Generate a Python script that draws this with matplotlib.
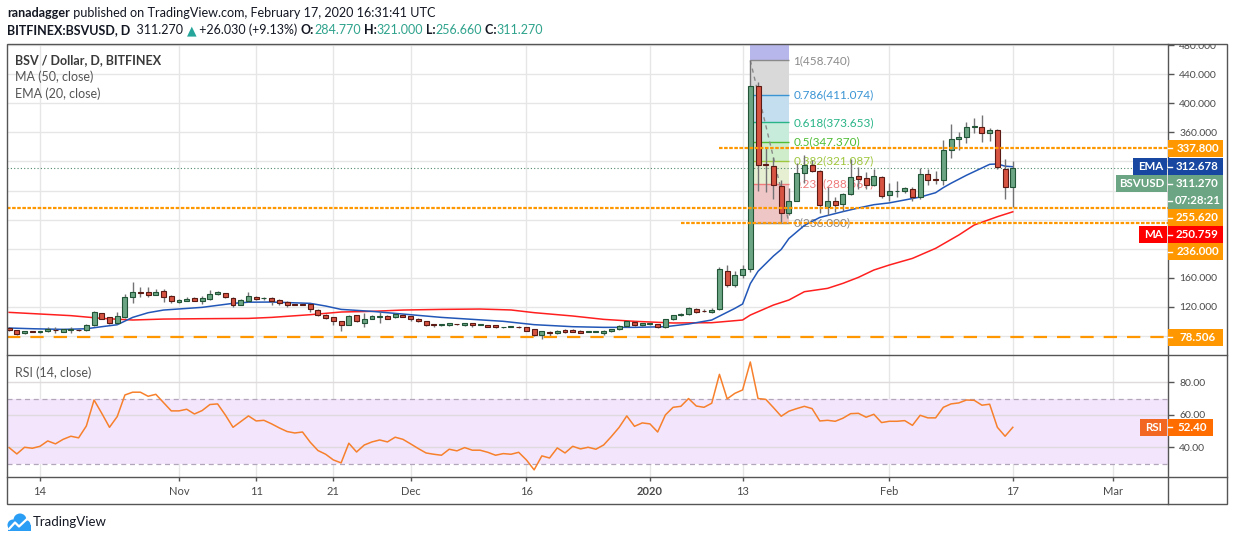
import numpy as np
import pandas as pd
import matplotlib
matplotlib.use('Agg')
import matplotlib.pyplot as plt
from matplotlib.patches import Rectangle, Circle
from matplotlib.transforms import Bbox, TransformedBbox

plt.rcParams['font.family'] = ['Lato', 'DejaVu Sans']

W, H = 1234, 541

# ---------------- data ----------------
start = pd.Timestamp('2019-10-10')

opens = [91.4, 87.7, 83.6, 86.4, 85.0, 86.4, 88.6, 85.9, 87.7, 88.6,
         88.2, 94.6, 111.1, 105.6, 97.4, 106.5, 133.1, 140.5, 140.5, 136.8,
         141.4, 135.0, 127.2, 128.5, 132.2, 128.5, 131.3, 137.7, 138.6, 132.2,
         123.0, 128.5, 134.0, 131.7, 132.2, 129.5, 126.7, 123.8, 123.6, 124.0,
         115.7, 109.3, 105.6, 100.1, 95.5, 108.4, 98.3, 103.8, 105.6, 107.5,
         105.6, 109.3, 107.5, 103.8, 100.1, 95.5, 95.6, 94.6, 96.5, 94.6,
         97.4, 95.8, 94.7, 94.7, 92.0, 92.8, 92.2, 92.0, 89.2, 80.9,
         85.5, 83.7, 88.3, 88.3, 87.3, 85.5, 86.2, 84.6, 86.4, 89.2,
         93.8, 99.3, 94.7, 96.5, 96.5, 92.0, 103.0, 108.4, 110.3, 116.7,
         114.2, 113.0, 116.7, 169.8, 149.7, 164.3, 171.7, 423.6, 316.4, 313.7,
         286.2, 249.5, 265.1, 303.6, 314.6, 307.2, 257.7, 265.1, 261.4, 275.2,
         299.9, 297.2, 287.0, 299.0, 273.3, 279.0, 278.8, 281.6, 270.6, 302.7,
         295.3, 294.4, 335.7, 350.3, 353.1, 367.2, 366.8, 358.6, 363.2, 309.1,
         284.77]
highs = [92.5, 88.5, 87.0, 87.2, 87.5, 92.7, 92.7, 90.0, 91.8, 89.5,
         96.5, 114.3, 112.0, 106.5, 113.0, 137.7, 153.7, 147.8, 147.8, 144.1,
         144.1, 136.0, 131.0, 133.0, 133.0, 135.0, 143.2, 142.0, 139.5, 133.0,
         131.0, 140.0, 135.5, 134.0, 133.0, 130.5, 127.5, 124.5, 124.2, 124.5,
         116.5, 110.0, 106.0, 101.0, 108.4, 109.0, 111.1, 108.5, 112.9, 108.3,
         111.0, 110.0, 108.0, 104.5, 101.0, 96.5, 97.0, 98.0, 97.0, 98.0,
         98.0, 97.0, 95.5, 95.5, 93.0, 94.0, 93.5, 92.5, 89.5, 87.0,
         86.5, 88.5, 89.0, 89.0, 88.0, 87.0, 87.0, 88.0, 90.0, 94.5,
         101.0, 100.0, 98.0, 97.5, 97.0, 104.0, 109.5, 112.0, 119.5, 119.0,
         117.0, 118.0, 175.0, 178.0, 170.0, 177.5, 458.74, 429.6, 339.3, 326.5,
         294.4, 283.0, 317.3, 329.2, 321.9, 308.0, 285.0, 271.5, 276.0, 323.7,
         312.7, 305.4, 309.0, 300.0, 289.8, 292.5, 285.0, 284.3, 310.9, 310.0,
         306.3, 349.4, 371.4, 360.4, 374.1, 379.6, 384.2, 365.9, 364.1, 323.7,
         321.0]
lows = [87.0, 81.5, 83.0, 85.5, 84.5, 85.5, 84.5, 85.0, 84.5, 87.0,
        87.5, 94.0, 103.0, 96.5, 96.5, 104.2, 125.8, 133.1, 134.0, 136.0,
        126.7, 124.9, 126.0, 127.5, 128.0, 124.0, 130.0, 137.0, 132.0, 120.3,
        122.0, 127.0, 129.5, 129.0, 122.0, 123.0, 120.3, 122.0, 122.0, 113.0,
        107.5, 104.0, 94.6, 87.3, 94.5, 99.5, 92.8, 103.0, 98.3, 103.0,
        105.0, 106.0, 101.0, 99.5, 94.0, 92.0, 94.0, 94.0, 95.0, 94.0,
        93.0, 95.0, 92.0, 90.5, 91.0, 92.0, 91.0, 86.5, 80.0, 75.4,
        80.0, 83.0, 84.0, 85.0, 84.0, 85.0, 85.0, 82.0, 86.0, 88.5,
        93.0, 94.0, 94.0, 95.5, 91.5, 91.5, 102.0, 108.0, 109.5, 112.0,
        113.0, 112.0, 116.0, 148.0, 147.0, 160.0, 168.0, 279.7, 278.0, 268.8,
        236.0, 246.0, 265.0, 289.8, 305.0, 248.6, 246.7, 250.8, 252.0, 274.0,
        282.5, 282.5, 286.0, 270.0, 266.0, 270.5, 277.0, 265.1, 269.0, 287.0,
        289.0, 288.0, 324.7, 335.7, 344.8, 359.5, 346.7, 348.5, 310.0, 268.7,
        256.66]
closes = [87.7, 82.2, 86.4, 86.0, 86.8, 89.1, 88.0, 89.1, 89.1, 87.7,
          94.6, 113.0, 103.8, 97.4, 107.5, 133.1, 140.5, 139.5, 136.8, 140.5,
          134.0, 128.5, 129.5, 131.3, 128.5, 132.2, 137.7, 140.5, 133.1, 123.0,
          129.5, 135.0, 130.4, 132.4, 128.5, 125.8, 123.0, 123.2, 123.0, 116.6,
          108.4, 104.7, 100.1, 95.5, 107.5, 100.1, 102.9, 107.5, 107.0, 103.8,
          110.2, 106.5, 103.8, 100.1, 94.6, 95.0, 96.0, 97.4, 96.0, 97.4,
          95.5, 96.0, 92.8, 92.0, 92.2, 93.0, 92.0, 87.3, 80.9, 86.4,
          83.7, 87.3, 85.5, 85.5, 84.6, 86.4, 86.4, 87.3, 89.2, 93.8,
          100.2, 94.7, 97.4, 96.6, 92.0, 103.0, 108.4, 110.3, 118.5, 113.0,
          114.0, 115.8, 171.7, 149.7, 163.4, 171.7, 423.6, 315.0, 314.6, 287.0,
          248.6, 265.1, 303.6, 314.6, 306.3, 259.6, 265.1, 260.5, 275.2, 298.1,
          296.2, 287.0, 299.9, 272.0, 278.8, 279.5, 283.4, 270.6, 302.7, 294.4,
          294.4, 335.7, 350.3, 353.1, 366.8, 367.8, 358.6, 363.2, 311.8, 284.3,
          311.27]

# EMA(20) and MA(50) (day offset from start, value)
ema_days = [0, 3, 7, 10, 12, 14, 16, 18, 20, 25, 29, 31, 34, 39, 41, 43, 47, 51,
            56, 60, 64, 68, 73, 77, 81, 85, 88, 91, 94, 95, 96, 97, 99, 100, 101,
            103, 105, 108, 110, 112, 114, 116, 118, 120, 121, 122, 124, 126, 127,
            128, 129, 130]
ema_vals = [91.0, 90.0, 89.1, 90.0, 92.8, 95.5, 105.6, 112.0, 115.7, 119.4, 124.9,
            126.5, 126.7, 124.9, 121.2, 116.6, 113.9, 110.2, 105.6, 102.9, 100.2,
            95.6, 92.8, 91.9, 91.9, 92.8, 96.5, 102.0, 118.0, 124.0, 152.0, 169.0,
            190.0, 199.0, 214.0, 232.0, 243.0, 251.0, 256.0, 260.5, 263.0, 267.0,
            271.0, 277.0, 284.0, 290.0, 301.0, 311.0, 316.0, 316.5, 313.5, 312.678]
ma_days = [0, 8, 12, 16, 20, 25, 31, 34, 39, 43, 47, 51, 56, 61, 65, 68, 73, 77,
           81, 86, 91, 95, 96, 99, 101, 103, 106, 108, 110, 112, 114, 117, 120,
           123, 125, 128, 130]
ma_vals = [112.5, 108.0, 104.2, 102.0, 103.3, 103.8, 104.2, 105.6, 109.3, 113.0,
           113.9, 115.7, 116.6, 117.1, 115.8, 112.1, 107.5, 102.9, 100.2, 97.9,
           98.3, 102.0, 108.8, 122.6, 129.5, 140.9, 145.5, 152.4, 160.6, 170.7,
           177.6, 186.7, 200.5, 218.8, 232.6, 244.0, 250.759]

rsi_vals = [39.9, 36.0, 40.1, 39.5, 40.7, 44.0, 42.2, 45.0, 46.9, 45.9,
            53.2, 69.2, 61.0, 52.4, 59.0, 72.3, 74.0, 74.0, 71.5, 72.7,
            67.6, 62.5, 62.5, 63.5, 60.6, 62.7, 66.4, 66.8, 60.0, 52.4,
            55.9, 59.4, 56.3, 56.7, 54.5, 52.0, 49.8, 48.9, 49.5, 43.2,
            38.1, 35.8, 32.3, 30.5, 42.6, 37.2, 41.5, 43.4, 44.6, 43.4,
            46.3, 45.0, 42.2, 39.3, 36.6, 35.8, 35.2, 38.9, 37.9, 39.9,
            38.3, 38.3, 37.0, 35.2, 36.2, 35.8, 37.0, 32.3, 26.2, 34.8,
            33.5, 39.7, 36.6, 40.7, 39.1, 40.1, 38.9, 41.5, 46.7, 52.3,
            59.4, 53.0, 55.1, 54.5, 49.5, 60.0, 64.7, 65.3, 70.1, 65.5,
            64.7, 67.2, 85.0, 69.9, 73.3, 75.4, 92.6, 70.1, 69.6, 64.5,
            59.2, 62.3, 63.9, 65.3, 63.9, 56.3, 56.7, 56.1, 58.0, 60.8,
            61.0, 58.6, 60.4, 55.3, 56.1, 56.1, 56.5, 53.6, 59.8, 58.2,
            58.2, 64.7, 66.8, 67.4, 69.2, 69.0, 66.0, 66.6, 52.4, 46.9,
            52.4]

tick_dates = ['2019-10-14', '2019-11-01', '2019-11-11', '2019-11-21', '2019-12-01',
              '2019-12-16', '2020-01-01', '2020-01-13', '2020-02-01', '2020-02-17',
              '2020-03-01']
tick_labels = ['14', 'Nov', '11', '21', 'Dec', '16', '2020', '13', 'Feb', '17', 'Mar']

hl_prices = [337.8, 255.62, 236.0, 78.506]
hl_from = ['2020-01-10', None, '2020-01-05', None]

fib_hi, fib_lo = 458.74, 236.0
fib_ratios = [1, 0.786, 0.618, 0.5, 0.382, 0.236, 0]
fib_from, fib_to = '2020-01-14', '2020-01-19'
ema_last, ma_last, rsi_last = 312.678, 250.759, 52.40
countdown = '07:28:21'

# ---------------- layout ----------------
L, R, RR = 6.5, 1168, 1227
T1, B1, B2, B3 = 44, 355, 477, 504
x_lo, x_hi = -0.34, 150.1

def dnum(s):
    return (pd.Timestamp(s) - start).days

opens, highs, lows, closes = map(np.array, (opens, highs, lows, closes))
x = np.arange(len(closes))

fig = plt.figure(figsize=(W / 100, H / 100), dpi=100)
fig.patch.set_facecolor('white')

def fbox(x0, y0, x1, y1):
    return [x0 / W, 1 - y1 / H, (x1 - x0) / W, (y1 - y0) / H]

ax = fig.add_axes(fbox(L, T1, R, B1))
rax = fig.add_axes(fbox(L, B1, R, B2))
tax = fig.add_axes(fbox(L, B2, R, B3))
for a in (ax, rax, tax):
    a.set_xlim(x_lo, x_hi)
    for s in a.spines.values():
        s.set_visible(False)
ax.set_ylim(53.9, 481.4)
rax.set_ylim(21.8, 96.9)
tax.set_ylim(0, 1)

grid_c = '#e6e6e6'
for t in tick_dates:
    ax.axvline(dnum(t), color=grid_c, lw=1, zorder=0)
    rax.axvline(dnum(t), color=grid_c, lw=1, zorder=0)
for p in range(80, 481, 40):
    ax.axhline(p, color=grid_c, lw=1, zorder=0)

# fibonacci retracement
f0, f1 = dnum(fib_from), dnum(fib_to)
fib_prices = [fib_lo + r * (fib_hi - fib_lo) for r in fib_ratios]
fill_cols = ['#d9d9d9', '#c4def0', '#c7ecdc', '#cfedcb', '#e7efd3', '#efc6c6']
line_cols = ['#8a8a8a', '#3a94d4', '#28b487', '#4fbd35', '#9fc73e', '#ef7b7b', '#8a8a8a']
ax.fill_between([f0, f1], fib_hi, 600, color='#b7b7ec', lw=0, zorder=1)
for i in range(len(fib_ratios) - 1):
    ax.fill_between([f0, f1], fib_prices[i + 1], fib_prices[i], color=fill_cols[i], lw=0, zorder=1)
for r, p, c in zip(fib_ratios, fib_prices, line_cols):
    ax.hlines(p, f0, f1, color=c, lw=1, zorder=1.5)
    ax.text(f1 + 0.6, p, '%g(%.3f)' % (r, p), color=c, fontsize=8.5,
            va='center', ha='left', zorder=2)
ax.plot([f0, f1], [fib_hi, fib_lo], color='#8a8a8a', lw=1, ls=(0, (3, 3)), zorder=1.6)

# moving averages
ax.plot(ma_days, ma_vals, color='#ff1f1f', lw=1.1, zorder=3)
ax.plot(ema_days, ema_vals, color='#2257b8', lw=1.1, zorder=3)

# last-price line
ax.axhline(closes[-1], color='#4d8a6a', lw=0.8, ls=(0, (1, 2)), zorder=2)

# candles
up = closes >= opens
lo_b = np.minimum(opens, closes)
h_b = np.maximum(np.abs(closes - opens), 0.9)
ax.vlines(x, lows, highs, color='#737375', lw=1, zorder=3.5)
ax.bar(x[up], h_b[up], bottom=lo_b[up], width=0.64, color='#6ba583',
       edgecolor='#225437', lw=0.8, zorder=4)
ax.bar(x[~up], h_b[~up], bottom=lo_b[~up], width=0.64, color='#d75442',
       edgecolor='#5b1a13', lw=0.8, zorder=4)

# horizontal support / resistance rays
for p, s in zip(hl_prices, hl_from):
    x0 = x_lo if s is None else dnum(s)
    ls = (0, (6, 4.5)) if p < 100 else (0, (1.6, 0.7))
    ax.hlines(p, x0, x_hi, color='#ff9800', lw=1.6, ls=ls, zorder=4.5)

# right axis ticks
ax.yaxis.tick_right()
ax.set_yticks([120, 160, 360, 400, 440, 480])
ax.set_yticklabels(['%.3f' % v for v in [120, 160, 360, 400, 440, 480]])
ax.tick_params(axis='y', direction='out', length=4, width=1, color='#555555',
               labelsize=7.5, labelcolor='#4a4a4a', pad=4)
ax.tick_params(axis='x', bottom=False, labelbottom=False)
clip = TransformedBbox(Bbox([[R / W, 1 - B1 / H], [RR / W, 1 - T1 / H]]), fig.transFigure)
for tk in ax.yaxis.get_major_ticks():
    tk.label2.set_clip_box(clip)
    tk.label2.set_clip_on(True)

ax.text(8.5 / (R - L), 1 - 16 / (B1 - T1), 'BSV / Dollar, D, BITFINEX', transform=ax.transAxes,
        fontsize=9, fontweight='bold', color='#3a3a3a', va='center')
ax.text(8.5 / (R - L), 1 - 33 / (B1 - T1), 'MA (50, close)', transform=ax.transAxes,
        fontsize=9, color='#555555', va='center')
ax.text(8.5 / (R - L), 1 - 50 / (B1 - T1), 'EMA (20, close)', transform=ax.transAxes,
        fontsize=9, color='#555555', va='center')

# RSI panel
rax.axhspan(30, 70, color='#f3e6fc', lw=0, zorder=0)
for v in (40, 60, 80):
    rax.axhline(v, color='#dedade', lw=1, zorder=0.5)
for v in (30, 70):
    rax.axhline(v, color='#b2a6ba', lw=0.9, ls=(0, (4, 3)), zorder=0.6)
rax.plot(x, rsi_vals, color='#f7802c', lw=1.1, zorder=3)
rax.yaxis.tick_right()
rax.set_yticks([40, 60, 80])
rax.set_yticklabels(['%.2f' % v for v in [40, 60, 80]])
rax.tick_params(axis='y', direction='out', length=4, width=1, color='#555555',
                labelsize=7.5, labelcolor='#4a4a4a', pad=4)
rax.tick_params(axis='x', bottom=False, labelbottom=False)
rax.text(8.5 / (R - L), 1 - 18 / (B2 - B1), 'RSI (14, close)', transform=rax.transAxes,
         fontsize=9, color='#555555', va='center')

# time axis
tpos = [dnum(t) for t in tick_dates]
tax.set_xticks(tpos)
tax.xaxis.set_ticks_position('top')
tax.tick_params(axis='x', direction='in', length=3, width=1, color='#555555',
                labeltop=False, labelbottom=False)
tax.set_yticks([])
for p, lab in zip(tpos, tick_labels):
    tax.text(p, 0.45, lab, ha='center', va='center', fontsize=8, color='#4a4a4a',
             fontweight='bold' if lab.isdigit() and len(lab) == 4 else 'normal')

# ---------------- overlay (frame, labels, header) ----------------
ov = fig.add_axes([0, 0, 1, 1])
ov.set_xlim(0, W)
ov.set_ylim(H, 0)
ov.axis('off')

fc = '#555555'
ov.add_patch(Rectangle((L, T1), RR - L, B3 - T1, fill=False, ec=fc, lw=1))
ov.plot([L, RR], [B1, B1], color=fc, lw=1)
ov.plot([L, RR], [B2, B2], color=fc, lw=1)
ov.plot([R, R], [T1, B3], color=fc, lw=1)

def ypix(a, v):
    return H - a.transData.transform((0, v))[1]

bh = 17
def label_box(yc, name, val, col, name_w=0, val_w=55):
    ov.add_patch(Rectangle((R, yc - bh / 2), val_w, bh, color=col, lw=0, zorder=5))
    ov.plot([R, R + 4], [yc, yc], color='white', lw=1, zorder=6)
    ov.text(R + val_w / 2 + 2, yc, val, color='white', fontsize=8.3, fontweight='bold',
            ha='center', va='center', zorder=6)
    if name:
        ov.add_patch(Rectangle((R - name_w, yc - bh / 2), name_w - 1, bh, color=col, lw=0, zorder=5))
        ov.text(R - name_w / 2, yc, name, color='white', fontsize=8.3, fontweight='bold',
                ha='center', va='center', zorder=6)

items = [(hl_prices[0], None, '%.3f' % hl_prices[0], '#ff9800', 0),
         (ema_last, 'EMA', '%.3f' % ema_last, '#1747a0', 35),
         (closes[-1], 'BSVUSD', '%.3f' % closes[-1], '#6ba583', 52),
         (closes[-1], None, countdown, '#6ba583', 0),
         (hl_prices[1], None, '%.3f' % hl_prices[1], '#ff9800', 0),
         (ma_last, 'MA', '%.3f' % ma_last, '#ff0000', 29),
         (hl_prices[2], None, '%.3f' % hl_prices[2], '#ff9800', 0),
         (hl_prices[3], None, '%.3f' % hl_prices[3], '#ff9800', 0)]
prev_bottom = -1e9
for price, name, val, col, nw in items:
    yc = max(ypix(ax, price), prev_bottom + bh / 2)
    label_box(yc, name, val, col, nw)
    prev_bottom = yc + bh / 2

yr = ypix(rax, rsi_last)
ov.add_patch(Rectangle((R - 28, yr - bh / 2), 27, bh, color='#f26722', lw=0, zorder=5))
ov.text(R - 14.5, yr, 'RSI', color='white', fontsize=8.3, fontweight='bold',
        ha='center', va='center', zorder=6)
ov.add_patch(Rectangle((R, yr - bh / 2), 45, bh, color='#ff6d00', lw=0, zorder=5))
ov.plot([R, R + 4], [yr, yr], color='white', lw=1, zorder=6)
ov.text(R + 24, yr, '%.2f' % rsi_last, color='white', fontsize=8.3, fontweight='bold',
        ha='center', va='center', zorder=6)

# header lines
renderer = fig.canvas.get_renderer()
def chain(parts, x0, y0, size):
    xx = x0
    for s, col, wt in parts:
        t = ov.text(xx, y0, s, color=col, fontsize=size, fontweight=wt, va='center', ha='left')
        xx += t.get_window_extent(renderer=renderer).width

dark, teal = '#131722', '#2fa38c'
chain([('ranadagger', dark, 'bold'),
       (' published on TradingView.com, February 17, 2020 16:31:41 UTC', dark, 'normal')],
      7, 13, 9.05)
chain([('BITFINEX:BSVUSD, D', dark, 'bold'), ('  %.3f ' % closes[-1], dark, 'normal'),
       ('\u25b2', '#26a69a', 'normal'), (' +26.030 (+9.13%) ', dark, 'normal'),
       ('O:', dark, 'bold'), ('%.3f' % opens[-1], teal, 'normal'),
       (' H:', dark, 'bold'), ('%.3f' % highs[-1], teal, 'normal'),
       (' L:', dark, 'bold'), ('%.3f' % lows[-1], teal, 'normal'),
       (' C:', dark, 'bold'), ('%.3f' % closes[-1], teal, 'normal')],
      7, 30, 9.0)

# TradingView logo
blue = '#2a9df4'
for cx, cy, r in [(13, 525, 5.5), (20, 520, 6.5), (25.5, 525, 5)]:
    ov.add_patch(Circle((cx, cy), r, color=blue, lw=0))
ov.add_patch(Rectangle((7.5, 525), 23, 6, color=blue, lw=0))
ov.plot([9, 15, 19, 27], [529, 522.5, 526.5, 519], color='white', lw=1.6,
        solid_capstyle='round')
ov.text(33, 522, 'TradingView', fontsize=9.5, color=dark, va='center', ha='left')

fig.savefig('out.png', dpi=100)
